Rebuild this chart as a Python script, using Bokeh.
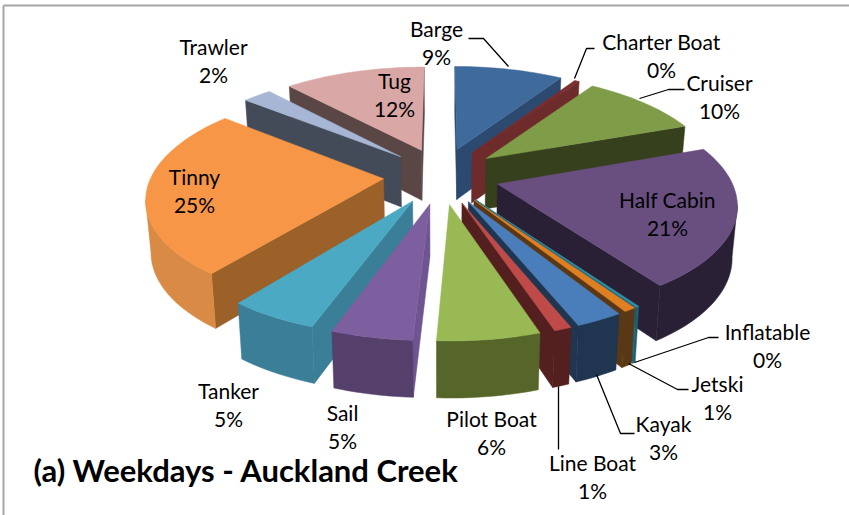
from bokeh.plotting import figure
from bokeh.embed import file_html
from bokeh.resources import INLINE
from bokeh.models import Range1d
from bokeh.core.properties import value
import numpy as np

categories = ["Barge", "Charter Boat", "Cruiser", "Half Cabin", "Inflatable", "Jetski", "Kayak",
              "Line Boat", "Pilot Boat", "Sail", "Tanker", "Tinny", "Trawler", "Tug"]
shares = [9.0, 0.4, 10.0, 21.0, 0.2, 0.7, 2.7, 1.0, 5.8, 4.6, 5.1, 25.4, 2.4, 11.7]
title_text = "(a) Weekdays - Auckland Creek"

top_colors = ["#3F6A9C", "#7C2E2E", "#7F9C49", "#694F80", "#2F8FA5", "#E07E22", "#4A7EBB",
              "#BE4B48", "#98B954", "#7D5FA0", "#4BA9C4", "#F79646", "#A7B6D4", "#D9A7A6"]
side_colors = ["#2C4A70", "#6E2B2B", "#36401C", "#2A2036", "#1F5F70", "#5A3815", "#1F3550",
               "#541F1F", "#566628", "#6E5490", "#3A7E97", "#9C6029", "#434A58", "#5A4645"]
wall_colors = ["#2C4A70", "#6E2B2B", "#36401C", "#2A2036", "#1F5F70", "#5A3815", "#1F3550",
               "#541F1F", "#566628", "#553F6B", "#3A7E97", "#D98A44", "#434A58", "#5A4645"]

# label: (centre x, y of first line, y of second line), in page pixels
label_xy = {
    "Barge": (436, 28, 56), "Charter Boat": (661, 41, 69), "Cruiser": (719, 82, 110),
    "Half Cabin": (667, 199, 227), "Inflatable": (767, 331, 359), "Jetski": (717, 383, 411),
    "Kayak": (663, 423, 451), "Line Boat": (592, 462, 490), "Pilot Boat": (491, 418, 446),
    "Sail": (342, 412, 440), "Tanker": (228, 390, 418), "Tinny": (194, 176, 204),
    "Trawler": (213, 46, 74), "Tug": (394, 80, 108),
}
# leader lines, page pixels
leaders = [
    ([468, 483, 508], [38, 38, 66]),
    ([594, 586, 574], [48, 48, 78]),
    ([684, 668, 639], [89, 89, 98]),
    ([718, 708, 634], [337, 337, 362]),
    ([688, 677, 628], [389, 389, 363]),
    ([634, 620, 596], [433, 433, 374]),
    ([558, 558], [386, 449]),
]

WIDTH, HEIGHT = 849, 515
p = figure(width=WIDTH, height=HEIGHT, output_backend="svg", toolbar_location=None,
           x_range=Range1d(0, WIDTH), y_range=Range1d(HEIGHT, 0),
           min_border=0, outline_line_color=None, background_fill_color="white")
p.xaxis.visible = False
p.yaxis.visible = False
p.grid.visible = False

CX, CY, A, B, K, EX, EY = 441.0, 175.0, 232.0, 104.0, 0.16, 0.25, 0.27

def project(X, Y):
    w = 1 + K * Y
    return CX + A * X / w, CY - B * Y / w, w

def bottom(x, y, w):
    return CX + (x - CX) * 0.982, y + 51.0 / np.sqrt(w)

total = sum(shares)
edges = np.concatenate([[0], np.cumsum(shares)]) / total * 2 * np.pi

slices = []
for i, name in enumerate(categories):
    a0, a1 = edges[i], edges[i + 1]
    mid = (a0 + a1) / 2
    ox, oy = EX * np.sin(mid), EY * np.cos(mid)
    th = np.linspace(a0, a1, max(2, int((a1 - a0) / 0.03) + 2))
    X = np.concatenate([[ox], ox + np.sin(th)])
    Y = np.concatenate([[oy], oy + np.cos(th)])
    x, y, w = project(X, Y)
    slices.append((np.cos(mid), i, x, y, w))

for _, i, x, y, w in sorted(slices, key=lambda s: -s[0]):
    bx, by = bottom(x, y, w)
    n = len(x)
    # radial walls: apex -> first corner and last corner -> apex, if they face the viewer
    for j0, j1 in [(0, 1), (n - 1, 0)]:
        if x[j1] < x[j0]:
            p.patch([x[j0], x[j1], bx[j1], bx[j0]], [y[j0], y[j1], by[j1], by[j0]],
                    fill_color=side_colors[i], line_color=side_colors[i], line_width=0.5)
    # outer wall: one polygon over the run of arc points that faces the viewer
    vis = [j for j in range(1, n - 1) if x[j + 1] < x[j]]
    if vis:
        idx = np.array(vis + [vis[-1] + 1])
        p.patch(list(x[idx]) + list(bx[idx][::-1]), list(y[idx]) + list(by[idx][::-1]),
                fill_color=wall_colors[i], line_color=wall_colors[i], line_width=0.5)
    p.patch(list(x), list(y), fill_color=top_colors[i], line_color=top_colors[i], line_width=0.5)

for lx, ly in leaders:
    p.line(lx, ly, line_color="black", line_width=1.3)

FONT = "Lato"
for i, name in enumerate(categories):
    cx_, y1, y2 = label_xy[name]
    pct = f"{round(shares[i] / total * 100)}%"
    p.text([cx_, cx_], [y1, y2], text=[name, pct], text_font=value(FONT), text_font_size="21px",
           text_align="center", text_baseline="middle", text_color="black")

p.text([33], [469], text=[title_text], text_font=value(FONT), text_font_style="bold",
       text_font_size="31px", text_align="left", text_baseline="middle", text_color="black")

# chart frame
p.line([3, 3], [515, 5], line_color="#A6A6A6", line_width=2)
p.line([3, 849], [5, 5], line_color="#A6A6A6", line_width=2)

open("out.html", "w").write(file_html(p, INLINE))
